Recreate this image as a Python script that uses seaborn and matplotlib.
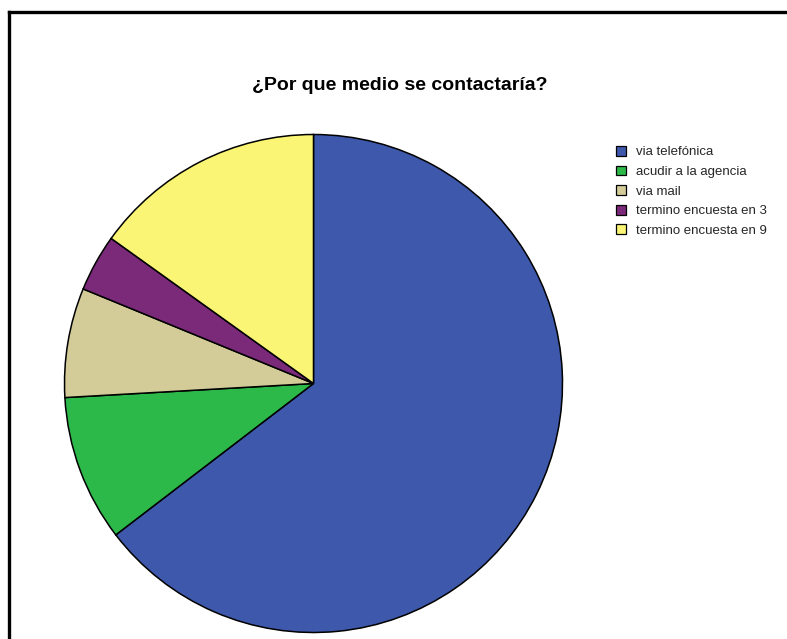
import matplotlib
matplotlib.use("Agg")
import matplotlib.pyplot as plt
from matplotlib.lines import Line2D
from matplotlib.patches import Patch
import seaborn as sns

# Survey answers (percent): "By which channel would you get in touch?"
categories = ["via telefónica", "acudir a la agencia", "via mail",
              "termino encuesta en 3", "termino encuesta en 9"]
shares = [64.6, 9.5, 7.1, 3.7, 15.1]
slice_colors = ["#3E59AB", "#2DB84A", "#D3CC98", "#7B2979", "#FAF574"]

sns.set_theme(style="white")
plt.rcParams["font.family"] = ["Liberation Sans", "DejaVu Sans"]

W, H = 787, 639
fig = plt.figure(figsize=(W / 100, H / 100), dpi=100)
fig.patch.set_facecolor("white")

# Pie axes placed in pixel terms: centre (313.5, 383.5), radius 249
cx, cy, r = 313.5, 383.5, 249.0
ax = fig.add_axes([(cx - r) / W, (H - cy - r) / H, 2 * r / W, 2 * r / H])
palette = sns.color_palette(slice_colors)
wedges, _ = ax.pie(shares, colors=palette, startangle=90, counterclock=False,
                   radius=1.0,
                   wedgeprops=dict(edgecolor="black", linewidth=1.1))
ax.set_xlim(-1.0, 1.0)
ax.set_ylim(-1.0, 1.0)
ax.set_aspect("auto")
ax.set_clip_on(False)
for w in wedges:
    w.set_clip_on(False)

fig.text(400 / W, 1 - 85 / H, "¿Por que medio se contactaría?",
         ha="center", va="center", fontsize=14, fontweight="bold",
         color="black")

handles = [Patch(facecolor=c, edgecolor="black", linewidth=0.9) for c in palette]
fig.legend(handles, categories, loc="upper left",
           bbox_to_anchor=(616 / W, 1 - 146 / H), frameon=False,
           fontsize=9.5, handlelength=0.76, handleheight=0.76,
           handletextpad=0.75, labelspacing=0.54, borderpad=0,
           borderaxespad=0)

# Outer frame (top and left edges visible)
fig.add_artist(Line2D([8.5 / W, 1.0], [1 - 11.5 / H, 1 - 11.5 / H],
                      transform=fig.transFigure, color="black", linewidth=2.4,
                      solid_capstyle="projecting"))
fig.add_artist(Line2D([8.5 / W, 8.5 / W], [1 - 11.5 / H, 0.0],
                      transform=fig.transFigure, color="black", linewidth=2.4,
                      solid_capstyle="projecting"))

fig.savefig("out.png", dpi=100, facecolor="white")
